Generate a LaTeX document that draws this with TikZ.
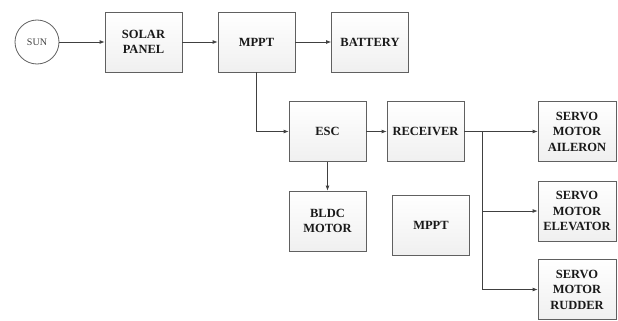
\documentclass[tikz,border=0pt]{standalone}
\usepackage{fontspec}
\setmainfont{Liberation Serif}
\newfontfamily\tmsfont{Liberation Serif}
\usetikzlibrary{arrows.meta}
\begin{document}
\begin{tikzpicture}[x=1pt,y=-1pt,
  blk/.style={draw=gray!75!black, line width=0.8pt, top color=white, bottom color=gray!12,
    minimum width=77pt, minimum height=60pt, inner sep=0pt, align=center,
    font=\tmsfont\fontsize{12.5}{15.5}\selectfont\bfseries, text=black!90},
  conn/.style={draw=black!75, line width=0.8pt},
  arr/.style={conn, -{Latex[length=5pt,width=4pt]}}]
\useasboundingbox (0,0) rectangle (618,321);
\node[circle, draw=gray!75!black, line width=0.8pt, minimum size=44pt, inner sep=0pt,
  font=\tmsfont\fontsize{10}{10}\selectfont, text=black!75] (sun) at (37,42) {SUN};
\node[blk] (solar) at (143.5,42) {SOLAR\\PANEL};
\node[blk] (mppt) at (256.5,42) {MPPT};
\node[blk] (bat) at (370,42) {BATTERY};
\node[blk] (esc) at (327.5,131.5) {ESC};
\node[blk] (rec) at (425.5,131.5) {RECEIVER};
\node[blk] (bldc) at (327.5,221) {BLDC\\MOTOR};
\node[blk] (mppt2) at (431,225) {MPPT};
\node[blk, minimum width=78pt] (ail) at (577,131.5) {SERVO\\MOTOR\\AILERON};
\node[blk, minimum width=78pt] (ele) at (577,211) {SERVO\\MOTOR\\ELEVATOR};
\node[blk, minimum width=78pt] (rud) at (577,289.5) {SERVO\\MOTOR\\RUDDER};
\coordinate (bus) at (482,131.5);
\draw[arr] (sun) -- (solar);
\draw[arr] (solar) -- (mppt);
\draw[arr] (mppt) -- (bat);
\draw[arr] (mppt.south) |- (esc.west);
\draw[arr] (esc) -- (rec);
\draw[arr] (esc) -- (bldc);
\draw[arr] (rec) -- (ail);
\draw[arr] (bus) |- (ele.west);
\draw[arr] (bus) |- (rud.west);
\end{tikzpicture}
\end{document}
